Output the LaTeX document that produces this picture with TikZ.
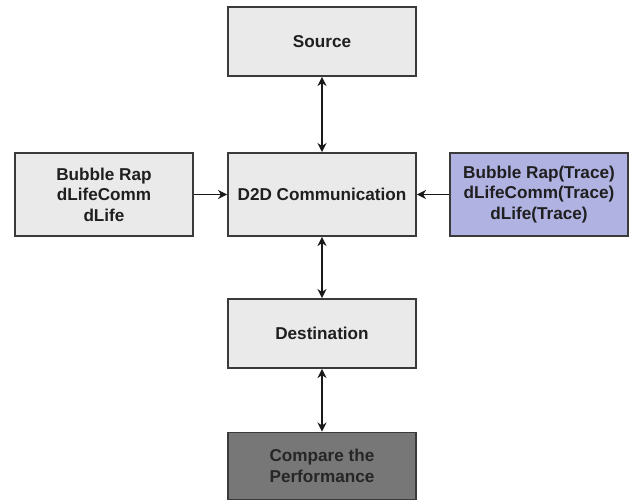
\documentclass[tikz,border=0pt]{standalone}
\usepackage{fontspec}
\setmainfont{Liberation Sans}
\usetikzlibrary{arrows.meta}
\definecolor{boxgray}{HTML}{EAEAEA}
\definecolor{boxline}{HTML}{3A3A3A}
\definecolor{tracefill}{HTML}{B0B2E2}
\definecolor{darkfill}{HTML}{777777}
\tikzset{
  block/.style={draw=boxline, line width=1.3pt, fill=boxgray, align=center,
    font=\fontsize{12.2}{14.5}\selectfont\bfseries, text=black!88,
    inner sep=0pt},
  link/.style={line width=1.4pt, draw=black!90, {Stealth[length=6.5pt,width=6.5pt]}-{Stealth[length=6.5pt,width=6.5pt]}},
  feed/.style={line width=1.4pt, draw=black!90, -{Stealth[length=6.5pt,width=6.5pt]}}
}
\begin{document}
\begin{tikzpicture}[x=0.025cm, y=-0.025cm]
  \useasboundingbox (0,0) rectangle (636,502);
  \node[block, minimum width=188*0.025cm, minimum height=69*0.025cm] (source) at (322,41.5) {Source};
  \node[block, minimum width=188*0.025cm, minimum height=83*0.025cm] (d2d) at (322,194.5) {D2D Communication};
  \node[block, minimum width=178*0.025cm, minimum height=83*0.025cm] (algo) at (104,194.5) {Bubble Rap\\dLifeComm\\dLife};
  \node[block, fill=tracefill, minimum width=178*0.025cm, minimum height=83*0.025cm] (trace) at (539,194.5) {Bubble Rap(Trace)\\dLifeComm(Trace)\\dLife(Trace)};
  \node[block, minimum width=188*0.025cm, minimum height=69*0.025cm] (dest) at (322,333.5) {Destination};
  \node[block, fill=darkfill, text=black!85, minimum width=188*0.025cm, minimum height=67*0.025cm] (perf) at (322,466) {Compare the\\Performance};
  \begin{scope}[line cap=butt]
    \draw[link] (source) to (d2d);
    \draw[link] (d2d) to (dest);
    \draw[link] (dest) to (perf);
    \draw[feed] (algo) to (d2d);
    \draw[feed] (trace) to (d2d);
  \end{scope}
\end{tikzpicture}
\end{document}
